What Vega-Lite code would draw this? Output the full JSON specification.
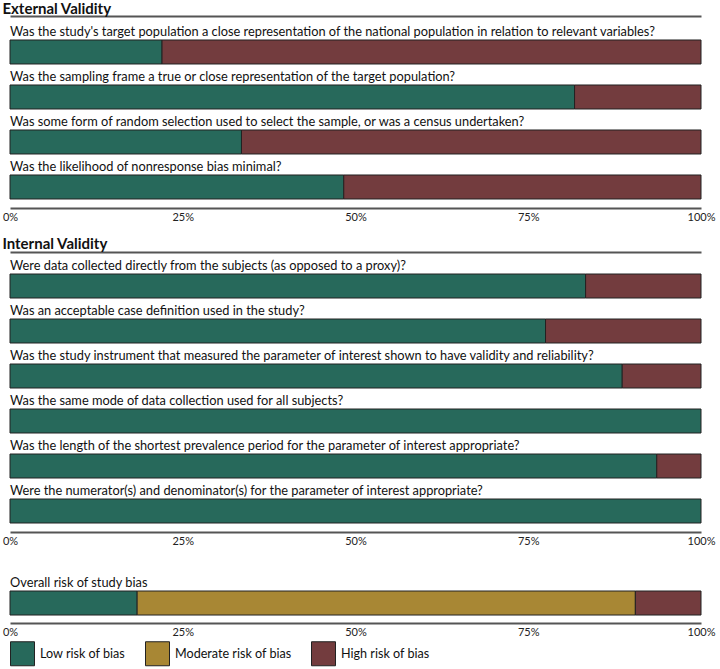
{
  "$schema": "https://vega.github.io/schema/vega-lite/v6.json",
  "padding": {"left": 2, "top": 2, "right": 5, "bottom": 0},
  "background": "white",
  "config": {
    "font": "Lato, sans-serif",
    "view": {"stroke": null},
    "axis": {"grid": false, "ticks": false, "title": null},
    "legend": {"orient": "bottom", "direction": "horizontal", "title": null, "symbolType": "square", "symbolSize": 576, "symbolStrokeColor": "#222", "symbolStrokeWidth": 1, "symbolOpacity": 1, "labelFontSize": 12.6, "labelColor": "#111", "labelOffset": 5, "columnPadding": 17, "offset": 4}
  },
  "resolve": {"legend": {"color": "shared"}},
  "datasets": {
    "ratings": [
      {"section": "External", "qn": 1, "question": "Was the study's target population a close representation of the national population in relation to relevant variables?", "risk": "Low risk of bias", "rank": 1, "share": 0.22},
      {"section": "External", "qn": 1, "question": "Was the study's target population a close representation of the national population in relation to relevant variables?", "risk": "High risk of bias", "rank": 3, "share": 0.78},
      {"section": "External", "qn": 2, "question": "Was the sampling frame a true or close representation of the target population?", "risk": "Low risk of bias", "rank": 1, "share": 0.817},
      {"section": "External", "qn": 2, "question": "Was the sampling frame a true or close representation of the target population?", "risk": "High risk of bias", "rank": 3, "share": 0.183},
      {"section": "External", "qn": 3, "question": "Was some form of random selection used to select the sample, or was a census undertaken?", "risk": "Low risk of bias", "rank": 1, "share": 0.335},
      {"section": "External", "qn": 3, "question": "Was some form of random selection used to select the sample, or was a census undertaken?", "risk": "High risk of bias", "rank": 3, "share": 0.665},
      {"section": "External", "qn": 4, "question": "Was the likelihood of nonresponse bias minimal?", "risk": "Low risk of bias", "rank": 1, "share": 0.483},
      {"section": "External", "qn": 4, "question": "Was the likelihood of nonresponse bias minimal?", "risk": "High risk of bias", "rank": 3, "share": 0.517},
      {"section": "Internal", "qn": 1, "question": "Were data collected directly from the subjects (as opposed to a proxy)?", "risk": "Low risk of bias", "rank": 1, "share": 0.833},
      {"section": "Internal", "qn": 1, "question": "Were data collected directly from the subjects (as opposed to a proxy)?", "risk": "High risk of bias", "rank": 3, "share": 0.167},
      {"section": "Internal", "qn": 2, "question": "Was an acceptable case definition used in the study?", "risk": "Low risk of bias", "rank": 1, "share": 0.775},
      {"section": "Internal", "qn": 2, "question": "Was an acceptable case definition used in the study?", "risk": "High risk of bias", "rank": 3, "share": 0.225},
      {"section": "Internal", "qn": 3, "question": "Was the study instrument that measured the parameter of interest shown to have validity and reliability?", "risk": "Low risk of bias", "rank": 1, "share": 0.886},
      {"section": "Internal", "qn": 3, "question": "Was the study instrument that measured the parameter of interest shown to have validity and reliability?", "risk": "High risk of bias", "rank": 3, "share": 0.114},
      {"section": "Internal", "qn": 4, "question": "Was the same mode of data collection used for all subjects?", "risk": "Low risk of bias", "rank": 1, "share": 1.0},
      {"section": "Internal", "qn": 5, "question": "Was the length of the shortest prevalence period for the parameter of interest appropriate?", "risk": "Low risk of bias", "rank": 1, "share": 0.936},
      {"section": "Internal", "qn": 5, "question": "Was the length of the shortest prevalence period for the parameter of interest appropriate?", "risk": "High risk of bias", "rank": 3, "share": 0.064},
      {"section": "Internal", "qn": 6, "question": "Were the numerator(s) and denominator(s) for the parameter of interest appropriate?", "risk": "Low risk of bias", "rank": 1, "share": 1.0},
      {"section": "Overall", "qn": 1, "question": "Overall risk of study bias", "risk": "Low risk of bias", "rank": 1, "share": 0.184},
      {"section": "Overall", "qn": 1, "question": "Overall risk of study bias", "risk": "Moderate risk of bias", "rank": 2, "share": 0.721},
      {"section": "Overall", "qn": 1, "question": "Overall risk of study bias", "risk": "High risk of bias", "rank": 3, "share": 0.095}
    ]
  },
  "data": {"name": "ratings"},
  "spacing": 15,
  "vconcat": [
    {
      "title": {"text": "External Validity", "anchor": "start", "fontSize": 15, "fontWeight": "bold", "color": "#111", "baseline": "alphabetic", "offset": -13},
      "width": 691,
      "height": 192,
      "transform": [{"filter": "datum.section == 'External'"}],
      "layer": [
        {
          "mark": {"type": "bar", "stroke": "#222", "strokeWidth": 1},
          "encoding": {
            "y": {"field": "qn", "type": "ordinal", "axis": null, "scale": {"paddingInner": 0.4667, "paddingOuter": 0.3667, "align": 0.727}},
            "x": {"field": "share", "type": "quantitative", "stack": "zero", "scale": {"domain": [0, 1]}, "axis": {"orient": "bottom", "values": [0, 0.25, 0.5, 0.75, 1], "format": ".0%", "labelFlush": false, "domainColor": "#555", "domainWidth": 2, "labelFontSize": 11, "labelColor": "#222", "labelPadding": 3}},
            "color": {"field": "risk", "type": "nominal", "scale": {"domain": ["Low risk of bias", "Moderate risk of bias", "High risk of bias"], "range": ["#27695B", "#A88734", "#733C3E"]}},
            "order": {"field": "rank"}
          }
        },
        {
          "transform": [{"filter": "datum.rank == 1"}],
          "mark": {"type": "text", "align": "left", "baseline": "alphabetic", "dy": -16, "fontSize": 12.8, "color": "#111"},
          "encoding": {
            "y": {"field": "qn", "type": "ordinal", "axis": null},
            "x": {"datum": 0, "type": "quantitative", "axis": {"orient": "top", "labels": false, "minExtent": 0, "maxExtent": 0, "domainColor": "#555", "domainWidth": 2}},
            "text": {"field": "question"}
          }
        }
      ],
      "resolve": {"axis": {"x": "independent"}}
    },
    {
      "title": {"text": "Internal Validity", "anchor": "start", "fontSize": 15, "fontWeight": "bold", "color": "#111", "baseline": "alphabetic", "offset": -12},
      "width": 691,
      "height": 280,
      "transform": [{"filter": "datum.section == 'Internal'"}],
      "layer": [
        {
          "mark": {"type": "bar", "stroke": "#222", "strokeWidth": 1},
          "encoding": {
            "y": {"field": "qn", "type": "ordinal", "axis": null, "scale": {"paddingInner": 0.4667, "paddingOuter": 0.3444, "align": 0.71}},
            "x": {"field": "share", "type": "quantitative", "stack": "zero", "scale": {"domain": [0, 1]}, "axis": {"orient": "bottom", "values": [0, 0.25, 0.5, 0.75, 1], "format": ".0%", "labelFlush": false, "domainColor": "#555", "domainWidth": 2, "labelFontSize": 11, "labelColor": "#222", "labelPadding": 3}},
            "color": {"field": "risk", "type": "nominal", "scale": {"domain": ["Low risk of bias", "Moderate risk of bias", "High risk of bias"], "range": ["#27695B", "#A88734", "#733C3E"]}},
            "order": {"field": "rank"}
          }
        },
        {
          "transform": [{"filter": "datum.rank == 1"}],
          "mark": {"type": "text", "align": "left", "baseline": "alphabetic", "dy": -16, "fontSize": 12.8, "color": "#111"},
          "encoding": {
            "y": {"field": "qn", "type": "ordinal", "axis": null},
            "x": {"datum": 0, "type": "quantitative", "axis": {"orient": "top", "labels": false, "minExtent": 0, "maxExtent": 0, "domainColor": "#555", "domainWidth": 2}},
            "text": {"field": "question"}
          }
        }
      ],
      "resolve": {"axis": {"x": "independent"}}
    },
    {
      "width": 691,
      "height": 62,
      "transform": [{"filter": "datum.section == 'Overall'"}],
      "layer": [
        {
          "mark": {"type": "bar", "stroke": "#222", "strokeWidth": 1},
          "encoding": {
            "y": {"field": "qn", "type": "ordinal", "axis": null, "scale": {"paddingInner": 0.4667, "paddingOuter": 0.422, "align": 0.79}},
            "x": {"field": "share", "type": "quantitative", "stack": "zero", "scale": {"domain": [0, 1]}, "axis": {"orient": "bottom", "values": [0, 0.25, 0.5, 0.75, 1], "format": ".0%", "labelFlush": false, "domainColor": "#555", "domainWidth": 2, "labelFontSize": 11, "labelColor": "#222", "labelPadding": 3}},
            "color": {"field": "risk", "type": "nominal", "scale": {"domain": ["Low risk of bias", "Moderate risk of bias", "High risk of bias"], "range": ["#27695B", "#A88734", "#733C3E"]}},
            "order": {"field": "rank"}
          }
        },
        {
          "transform": [{"filter": "datum.rank == 1"}],
          "mark": {"type": "text", "align": "left", "baseline": "alphabetic", "dy": -16, "fontSize": 12.8, "color": "#111"},
          "encoding": {
            "y": {"field": "qn", "type": "ordinal", "axis": null},
            "x": {"datum": 0, "type": "quantitative"},
            "text": {"field": "question"}
          }
        }
      ]
    }
  ]
}
